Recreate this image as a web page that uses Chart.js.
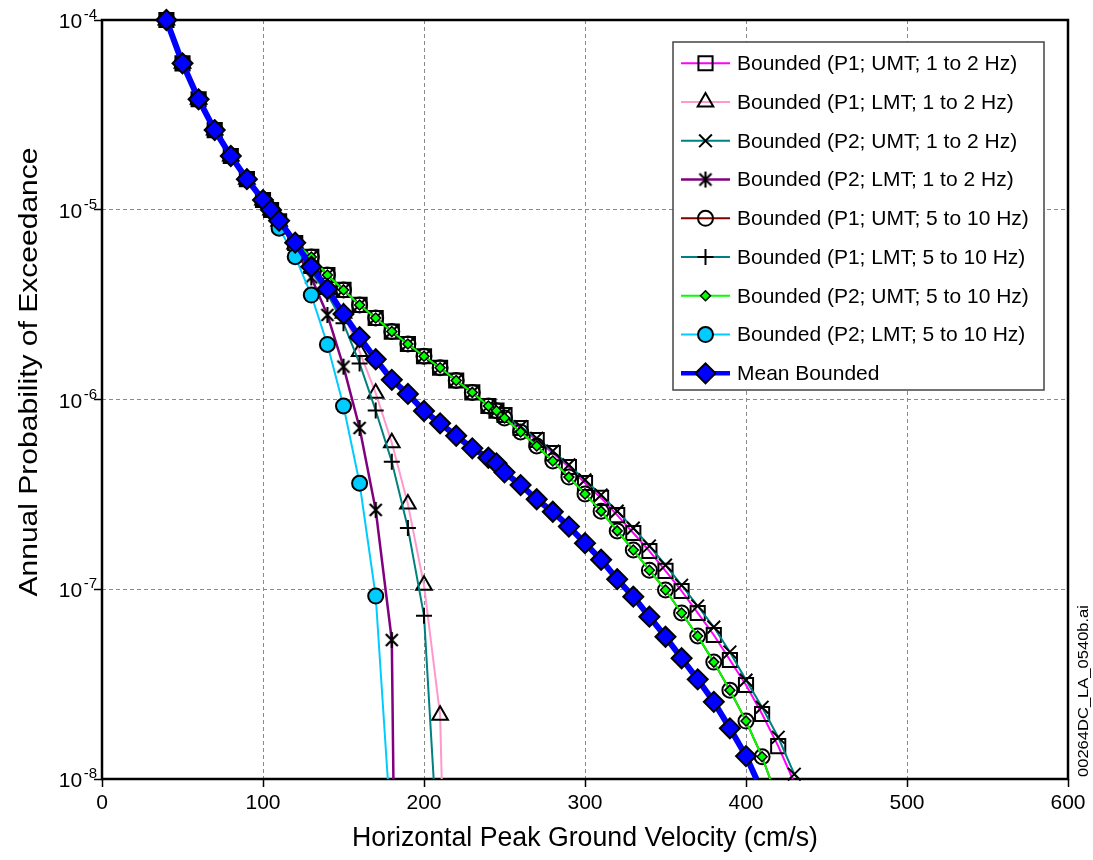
<!DOCTYPE html>
<html>
<head>
<meta charset="utf-8">
<script src="https://cdn.jsdelivr.net/npm/chart.js@4/dist/chart.umd.min.js"></script>
<style>
html,body{margin:0;padding:0;background:#fff;}
#wrap{position:relative;width:1093px;height:860px;}
</style>
</head>
<body>
<div id="wrap"><canvas id="c" width="1093" height="860"></canvas></div>
<script>
// ---------- DATA ----------
const seriesLabels = [
  'Bounded (P1; UMT; 1 to 2 Hz)',
  'Bounded (P1; LMT; 1 to 2 Hz)',
  'Bounded (P2; UMT; 1 to 2 Hz)',
  'Bounded (P2; LMT; 1 to 2 Hz)',
  'Bounded (P1; UMT; 5 to 10 Hz)',
  'Bounded (P1; LMT; 5 to 10 Hz)',
  'Bounded (P2; UMT; 5 to 10 Hz)',
  'Bounded (P2; LMT; 5 to 10 Hz)',
  'Mean Bounded'
];
const xTicks = [0, 100, 200, 300, 400, 500, 600];
const yTickExps = [-4, -5, -6, -7, -8];

// common start of every curve
const headX = [40, 50, 60, 70, 80, 90, 100, 105];
const headY = [1.0e-4, 5.91e-5, 3.82e-5, 2.63e-5, 1.92e-5, 1.45e-5, 1.125e-5, 9.97e-6];

// upper (UMT) curves coincide up to 245 cm/s
const umtSharedX = [110, 120, 130, 140, 150, 160, 170, 180, 190, 200, 210, 220, 230, 240, 245];
const umtSharedY = [8.7e-6, 6.68e-6, 5.64e-6, 4.53e-6, 3.78e-6, 3.15e-6, 2.69e-6, 2.28e-6, 1.96e-6, 1.69e-6, 1.47e-6, 1.26e-6, 1.09e-6, 9.24e-7, 8.73e-7];

const p1umt12X = [250, 260, 270, 280, 290, 300, 310, 320, 330, 340, 350, 360, 370, 380, 390, 400, 410, 420, 429];
const p1umt12Y = [8.29e-7, 7.08e-7, 6.12e-7, 5.22e-7, 4.41e-7, 3.63e-7, 3.03e-7, 2.46e-7, 1.98e-7, 1.59e-7, 1.25e-7, 9.79e-8, 7.50e-8, 5.74e-8, 4.24e-8, 3.13e-8, 2.20e-8, 1.49e-8, 1.0e-8];

const p2umt12X = [250, 260, 270, 280, 290, 300, 310, 320, 330, 340, 350, 360, 370, 380, 390, 400, 410, 420, 430, 433];
const p2umt12Y = [8.35e-7, 7.20e-7, 6.25e-7, 5.35e-7, 4.52e-7, 3.77e-7, 3.14e-7, 2.58e-7, 2.10e-7, 1.69e-7, 1.34e-7, 1.05e-7, 8.16e-8, 6.32e-8, 4.67e-8, 3.32e-8, 2.39e-8, 1.66e-8, 1.06e-8, 1.0e-8];

const p1umt510X = [250, 260, 270, 280, 290, 300, 310, 320, 330, 340, 350, 360, 370, 380, 390, 400, 410, 415];
const p1umt510Y = [7.99e-7, 6.74e-7, 5.69e-7, 4.74e-7, 3.90e-7, 3.18e-7, 2.58e-7, 2.03e-7, 1.61e-7, 1.26e-7, 9.91e-8, 7.50e-8, 5.67e-8, 4.13e-8, 2.94e-8, 2.02e-8, 1.31e-8, 1.0e-8];

const p2umt510X = [250, 260, 270, 280, 290, 300, 310, 320, 330, 340, 350, 360, 370, 380, 390, 400, 410, 415];
const p2umt510Y = [7.99e-7, 6.74e-7, 5.69e-7, 4.74e-7, 3.90e-7, 3.18e-7, 2.58e-7, 2.03e-7, 1.61e-7, 1.26e-7, 9.91e-8, 7.50e-8, 5.67e-8, 4.13e-8, 2.94e-8, 2.02e-8, 1.31e-8, 1.0e-8];

const p1lmt12X = [110, 120, 130, 140, 150, 160, 170, 180, 190, 200, 210, 211];
const p1lmt12Y = [8.7e-6, 6.6e-6, 4.9e-6, 3.8e-6, 2.85e-6, 1.79e-6, 1.08e-6, 5.92e-7, 2.81e-7, 1.05e-7, 2.17e-8, 1.0e-8];

const p1lmt510X = [110, 120, 130, 140, 150, 160, 170, 180, 190, 200, 206];
const p1lmt510Y = [8.7e-6, 6.5e-6, 4.7e-6, 3.6e-6, 2.52e-6, 1.55e-6, 8.75e-7, 4.70e-7, 2.10e-7, 7.26e-8, 1.0e-8];

const p2lmt12X = [110, 120, 130, 140, 150, 160, 170, 180, 181];
const p2lmt12Y = [8.7e-6, 6.2e-6, 4.4e-6, 2.79e-6, 1.49e-6, 7.08e-7, 2.62e-7, 5.40e-8, 1.0e-8];

const p2lmt510X = [110, 120, 130, 140, 150, 160, 170, 177.5];
const p2lmt510Y = [8.0e-6, 5.66e-6, 3.55e-6, 1.95e-6, 9.24e-7, 3.62e-7, 9.21e-8, 1.0e-8];

const meanX = [110, 120, 130, 140, 150, 160, 170, 180, 190, 200, 210, 220, 230, 240, 245, 250, 260, 270, 280, 290, 300, 310, 320, 330, 340, 350, 360, 370, 380, 390, 400, 406.5];
const meanY = [8.76e-6, 6.71e-6, 5.01e-6, 3.82e-6, 2.82e-6, 2.13e-6, 1.63e-6, 1.27e-6, 1.07e-6, 8.70e-7, 7.49e-7, 6.44e-7, 5.53e-7, 4.93e-7, 4.61e-7, 4.13e-7, 3.54e-7, 2.98e-7, 2.56e-7, 2.14e-7, 1.75e-7, 1.43e-7, 1.13e-7, 9.14e-8, 7.17e-8, 5.62e-8, 4.33e-8, 3.35e-8, 2.55e-8, 1.85e-8, 1.32e-8, 1.0e-8];

// ---------- STYLES ----------
const FONT = '"Liberation Sans", Arial, Helvetica, sans-serif';
Chart.defaults.font.family = FONT;
Chart.defaults.color = '#000';

function makeAsterisk() {
  const c = document.createElement('canvas');
  c.width = 22; c.height = 22;
  const g = c.getContext('2d');
  g.strokeStyle = '#000'; g.lineWidth = 2.2;
  const cx = 11, cy = 11, d = 6;
  g.beginPath();
  g.moveTo(cx - d, cy - d); g.lineTo(cx + d, cy + d);
  g.moveTo(cx + d, cy - d); g.lineTo(cx - d, cy + d);
  g.moveTo(cx, cy - 8); g.lineTo(cx, cy + 8);
  g.stroke();
  return c;
}
const asterisk = makeAsterisk();

const styles = [
  {line: '#FF00FF', lw: 2,   style: 'rect',     r: 10,  bg: 'rgba(0,0,0,0)', bw: 2},
  {line: '#FF99CC', lw: 2,   style: 'triangle', r: 9,   bg: 'rgba(0,0,0,0)', bw: 2},
  {line: '#008080', lw: 2,   style: 'crossRot', r: 9,   bg: 'rgba(0,0,0,0)', bw: 2},
  {line: '#800080', lw: 2.5, style: asterisk,   r: 8,   bg: 'rgba(0,0,0,0)', bw: 2},
  {line: '#800000', lw: 2,   style: 'circle',   r: 7.5, bg: 'rgba(0,0,0,0)', bw: 2},
  {line: '#008080', lw: 2,   style: 'cross',    r: 8,   bg: 'rgba(0,0,0,0)', bw: 2},
  {line: '#00FF00', lw: 2,   style: 'rectRot',  r: 5,   bg: '#00FF00',       bw: 1.5},
  {line: '#00CCFF', lw: 2,   style: 'circle',   r: 7.5, bg: '#00CCFF',       bw: 2},
  {line: '#0000FF', lw: 6,   style: 'rectRot',  r: 10,  bg: '#0000FF',       bw: 2}
];

function pts(xs, ys) { return xs.map((x, i) => ({x: x, y: ys[i]})); }

const seriesX = [
  headX.concat(umtSharedX, p1umt12X),
  headX.concat(p1lmt12X),
  headX.concat(umtSharedX, p2umt12X),
  headX.concat(p2lmt12X),
  headX.concat(umtSharedX, p1umt510X),
  headX.concat(p1lmt510X),
  headX.concat(umtSharedX, p2umt510X),
  headX.concat(p2lmt510X),
  headX.concat(meanX)
];
const seriesY = [
  headY.concat(umtSharedY, p1umt12Y),
  headY.concat(p1lmt12Y),
  headY.concat(umtSharedY, p2umt12Y),
  headY.concat(p2lmt12Y),
  headY.concat(umtSharedY, p1umt510Y),
  headY.concat(p1lmt510Y),
  headY.concat(umtSharedY, p2umt510Y),
  headY.concat(p2lmt510Y),
  headY.concat(meanY)
];

const datasets = seriesLabels.map((label, i) => {
  const st = styles[i];
  const n = seriesX[i].length;
  return {
    label: label,
    data: pts(seriesX[i], seriesY[i]),
    order: seriesLabels.length - i,
    borderColor: st.line,
    backgroundColor: st.line,
    borderWidth: st.lw,
    borderCapStyle: 'butt',
    borderJoinStyle: 'round',
    pointStyle: st.style,
    pointBackgroundColor: st.bg,
    pointBorderColor: '#000',
    pointBorderWidth: st.bw,
    pointRadius: (c) => (c.dataIndex === n - 1 ? 0 : st.r),
    pointHoverRadius: (c) => (c.dataIndex === n - 1 ? 0 : st.r),
    tension: 0,
    fill: false,
    clip: false
  };
});

// ---------- PLUGINS ----------
function drawMarker(ctx, st, x, y) {
  if (typeof st.style !== 'string') {
    ctx.drawImage(st.style, x - st.style.width / 2, y - st.style.height / 2);
    return;
  }
  const r = st.r;
  ctx.save();
  ctx.lineWidth = st.bw; ctx.strokeStyle = '#000'; ctx.fillStyle = st.bg;
  ctx.beginPath();
  switch (st.style) {
    case 'rect': { const s = r * Math.SQRT1_2; ctx.rect(x - s, y - s, 2 * s, 2 * s); break; }
    case 'rectRot': ctx.moveTo(x - r, y); ctx.lineTo(x, y - r); ctx.lineTo(x + r, y); ctx.lineTo(x, y + r); ctx.closePath(); break;
    case 'circle': ctx.arc(x, y, r, 0, Math.PI * 2); ctx.closePath(); break;
    case 'triangle': {
      let a = 0;
      ctx.moveTo(x + Math.sin(a) * r, y - Math.cos(a) * r);
      a += Math.PI * 2 / 3; ctx.lineTo(x + Math.sin(a) * r, y - Math.cos(a) * r);
      a += Math.PI * 2 / 3; ctx.lineTo(x + Math.sin(a) * r, y - Math.cos(a) * r);
      ctx.closePath(); break;
    }
    case 'crossRot': { const o = r * Math.SQRT1_2; ctx.moveTo(x - o, y - o); ctx.lineTo(x + o, y + o); ctx.moveTo(x + o, y - o); ctx.lineTo(x - o, y + o); break; }
    case 'cross': ctx.moveTo(x, y - r); ctx.lineTo(x, y + r); ctx.moveTo(x - r, y); ctx.lineTo(x + r, y); break;
  }
  if (st.style !== 'cross' && st.style !== 'crossRot') ctx.fill();
  ctx.stroke();
  ctx.restore();
}

function stretchedText(ctx, text, fontPx, cx, cy, rot, targetLen, baselineOffset) {
  ctx.save();
  ctx.font = fontPx + 'px ' + FONT;
  const w = ctx.measureText(text).width;
  ctx.translate(cx, cy);
  ctx.rotate(rot);
  ctx.scale(targetLen / w, 1);
  ctx.textAlign = 'center';
  ctx.textBaseline = 'alphabetic';
  ctx.fillStyle = '#000';
  ctx.fillText(text, 0, baselineOffset || 0);
  ctx.restore();
}

const framePlugin = {
  id: 'frame',
  beforeDatasetsDraw(chart) {
    const {ctx, chartArea: a} = chart;
    ctx.save();
    ctx.strokeStyle = '#000';
    ctx.lineWidth = 2.5;
    ctx.strokeRect(a.left, a.top, a.right - a.left, a.bottom - a.top);
    ctx.restore();
  }
};

const textPlugin = {
  id: 'texts',
  afterDraw(chart) {
    const ctx = chart.ctx;
    const ys = chart.scales.y;
    ctx.save();
    ctx.fillStyle = '#000';
    ctx.textAlign = 'right';
    ctx.textBaseline = 'alphabetic';
    yTickExps.forEach(e => {
      const py = ys.getPixelForValue(Math.pow(10, e));
      ctx.font = '15px ' + FONT;
      const sup = String(e);
      const sw = ctx.measureText(sup).width;
      ctx.fillText(sup, 97, py - 1);
      ctx.font = '21px ' + FONT;
      ctx.fillText('10', 97 - sw - 1.5, py + 8);
    });
    ctx.restore();

    // axis titles
    const a = chart.chartArea;
    stretchedText(ctx, 'Horizontal Peak Ground Velocity (cm/s)', 27, (a.left + a.right) / 2, 846, 0, 466, 0);
    stretchedText(ctx, 'Annual Probability of Exceedance', 26, 37, 372, -Math.PI / 2, 449, 0);
    // file tag
    stretchedText(ctx, '00264DC_LA_0540b.ai', 14, 1088, 691, -Math.PI / 2, 172, 0);

    // legend
    const L = {left: 673, top: 42, right: 1044, bottom: 390};
    ctx.save();
    ctx.fillStyle = '#fff';
    ctx.fillRect(L.left, L.top, L.right - L.left, L.bottom - L.top);
    ctx.strokeStyle = '#444';
    ctx.lineWidth = 1.5;
    ctx.strokeRect(L.left, L.top, L.right - L.left, L.bottom - L.top);
    chart.data.datasets.forEach((ds, i) => {
      const st = styles[i];
      const y = 63.3 + i * 38.75;
      ctx.save();
      ctx.strokeStyle = st.line;
      ctx.lineWidth = Math.min(st.lw, 4.5);
      ctx.beginPath();
      ctx.moveTo(681, y); ctx.lineTo(730, y);
      ctx.stroke();
      ctx.restore();
      drawMarker(ctx, st, 705.5, y);
      ctx.fillStyle = '#000';
      ctx.font = '21px ' + FONT;
      ctx.textAlign = 'left';
      ctx.textBaseline = 'middle';
      ctx.fillText(ds.label, 737, y + 1);
    });
    ctx.restore();
  }
};

// ---------- CHART ----------
const gridCommon = {
  color: '#8a8a8a', lineWidth: 1, drawTicks: true, tickLength: 8,
  tickColor: '#000', tickWidth: 1.5, tickBorderDash: []
};

new Chart(document.getElementById('c'), {
  type: 'line',
  data: {datasets: datasets},
  options: {
    responsive: false,
    animation: false,
    devicePixelRatio: 1,
    events: [],
    layout: {padding: {left: 0, right: 25, top: 20, bottom: 0}},
    plugins: {legend: {display: false}, tooltip: {enabled: false}, title: {display: false}},
    scales: {
      x: {
        type: 'linear', min: 0, max: 600,
        afterBuildTicks: (s) => { s.ticks = xTicks.map(v => ({value: v})); },
        afterFit: (s) => { s.height = 81; },
        ticks: {font: {size: 21, family: FONT}, color: '#000', padding: 4, maxRotation: 0, autoSkip: false},
        grid: gridCommon,
        border: {display: false, dash: [4, 3]}
      },
      y: {
        type: 'logarithmic', min: 1e-8, max: 1e-4,
        afterBuildTicks: (s) => { s.ticks = yTickExps.map(e => ({value: Math.pow(10, e)})); },
        afterFit: (s) => { s.width = 102; },
        ticks: {display: false},
        grid: gridCommon,
        border: {display: false, dash: [4, 3]}
      }
    }
  },
  plugins: [framePlugin, textPlugin]
});
</script>
</body>
</html>
